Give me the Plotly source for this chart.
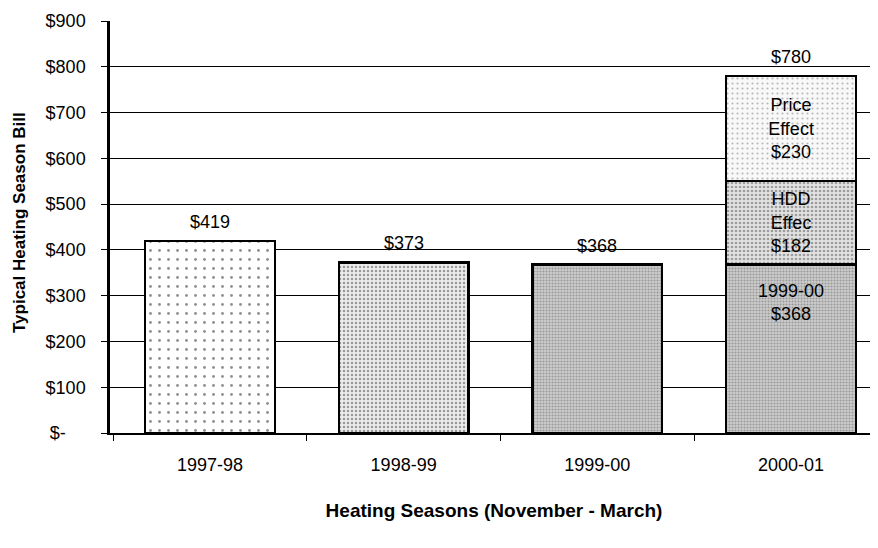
import plotly.graph_objects as go

# heating season bills
seasons = ["1997-98", "1998-99", "1999-00", "2000-01"]
bills = [419, 373, 368, 780]
base_2000 = 368
hdd_effect = 182
price_effect = 230

tick_vals = [0, 100, 200, 300, 400, 500, 600, 700, 800, 900]
tick_text = ["$-\u00a0\u00a0\u00a0\u00a0", "$100", "$200", "$300", "$400", "$500",
             "$600", "$700", "$800", "$900"]

font = "Liberation Sans, Arial, sans-serif"
outline = dict(color="black", width=2.5)

fig = go.Figure()

fig.add_trace(go.Bar(
    x=[seasons[0]], y=[bills[0]],
    marker=dict(color="white", line=outline,
                pattern=dict(shape=".", fgcolor="#222", bgcolor="white",
                             size=9, solidity=0.08)),
))
fig.add_trace(go.Bar(
    x=[seasons[1]], y=[bills[1]],
    marker=dict(color="#e6e6e6", line=outline,
                pattern=dict(shape=".", fgcolor="#444", bgcolor="#ececec",
                             size=4, solidity=0.3)),
))
fig.add_trace(go.Bar(
    x=[seasons[2], seasons[3]], y=[bills[2], base_2000],
    marker=dict(color="#c8c8c8", line=outline,
                pattern=dict(shape=".", fgcolor="#666", bgcolor="#cdcdcd",
                             size=3, solidity=0.4)),
))
fig.add_trace(go.Bar(
    x=[seasons[3]], y=[hdd_effect],
    text=["HDD<br>Effec<br>$182"],
    textposition="inside", insidetextanchor="middle",
    marker=dict(color="#dedede", line=outline,
                pattern=dict(shape=".", fgcolor="#555", bgcolor="#e2e2e2",
                             size=4, solidity=0.35)),
))
fig.add_trace(go.Bar(
    x=[seasons[3]], y=[price_effect],
    text=["Price<br>Effect<br>$230"],
    textposition="inside", insidetextanchor="middle",
    marker=dict(color="#f4f4f4", line=outline,
                pattern=dict(shape=".", fgcolor="#777", bgcolor="#f8f8f8",
                             size=5, solidity=0.15)),
))

fig.update_traces(textfont=dict(family=font, size=18, color="black"),
                  insidetextfont=dict(family=font, size=18, color="black"),
                  hoverinfo="skip")

# totals above the bars
for s, b in zip(seasons, bills):
    fig.add_annotation(x=s, y=b, text="$" + str(b), showarrow=False,
                       yanchor="bottom", yshift=7,
                       font=dict(family=font, size=18, color="black"))

# label inside the 2000-01 base segment
fig.add_annotation(x=seasons[3], y=base_2000,
                   text=seasons[2] + "<br>$" + str(base_2000),
                   showarrow=False, yanchor="top", yshift=-14,
                   font=dict(family=font, size=18, color="black"))

fig.add_annotation(x=-0.117, y=0.51, xref="paper", yref="paper",
                   text="<b>Typical Heating Season Bill</b>", textangle=-90,
                   showarrow=False, xanchor="center", yanchor="middle",
                   font=dict(family=font, size=17, color="black"))

fig.update_layout(
    width=870, height=540,
    barmode="stack", bargap=0.33, showlegend=False,
    plot_bgcolor="white", paper_bgcolor="white",
    margin=dict(l=102, r=0, t=13, b=115),
    font=dict(family=font, size=18, color="black"),
    uniformtext=dict(mode=False),
    xaxis=dict(
        type="category", range=[-0.516, 3.449],
        showline=True, linecolor="black", linewidth=2,
        ticks="outside", tickson="boundaries", ticklen=6, tickcolor="black",
        ticklabelstandoff=14,
        tickfont=dict(family=font, size=18),
        title=dict(text="<b>Heating Seasons (November - March)</b>",
                   font=dict(family=font, size=19), standoff=30),
    ),
    yaxis=dict(
        range=[0, 900], tickvals=tick_vals, ticktext=tick_text,
        showgrid=True, gridcolor="black", gridwidth=1,
        showline=True, linecolor="black", linewidth=2.5,
        ticks="outside", ticklen=6, tickcolor="black",
        ticklabelstandoff=12, zeroline=False,
        tickfont=dict(family=font, size=18),
    ),
)

fig.write_html("out.html")
